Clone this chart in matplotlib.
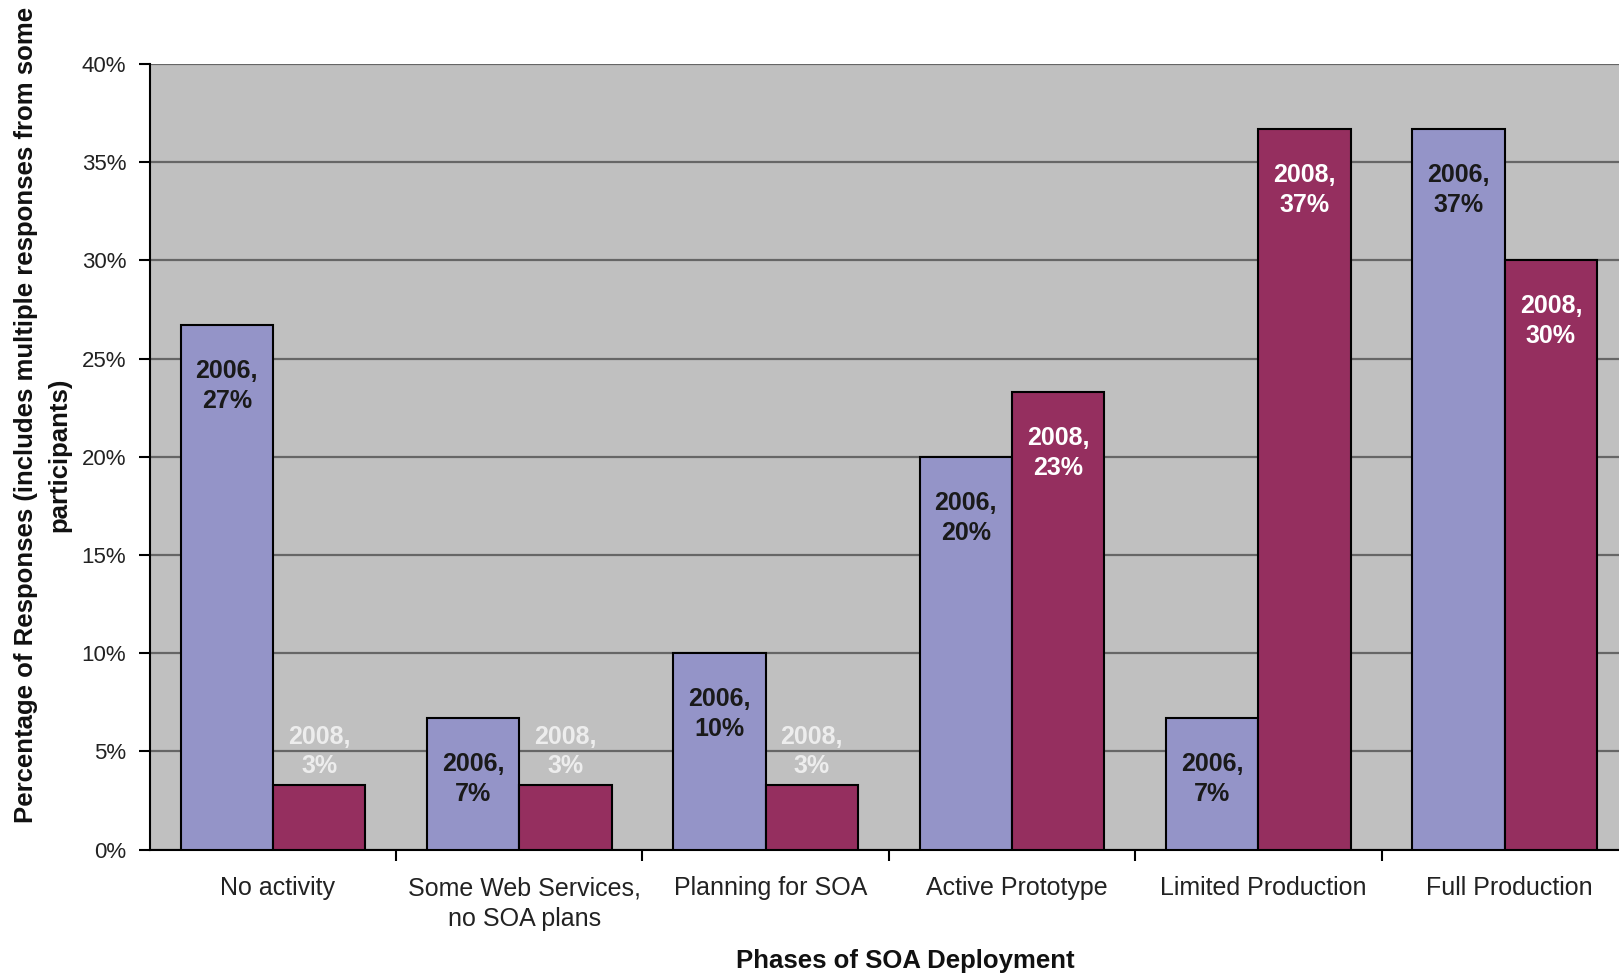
import numpy as np
import matplotlib
matplotlib.use("Agg")
import matplotlib.pyplot as plt

plt.rcParams['font.family'] = ['Liberation Sans', 'DejaVu Sans']

# Chart data
phases = ['No activity', 'Some Web Services,\nno SOA plans', 'Planning for SOA',
          'Active Prototype', 'Limited Production', 'Full Production']
values_2006 = [26.7, 6.7, 10.0, 20.0, 6.7, 36.7]
values_2008 = [3.3, 3.3, 3.3, 23.3, 36.7, 30.0]
labels_2006 = ['27%', '7%', '10%', '20%', '7%', '37%']
labels_2008 = ['3%', '3%', '3%', '23%', '37%', '30%']
yticks = [0, 5, 10, 15, 20, 25, 30, 35, 40]

color_2006 = '#9494C8'
color_2008 = '#952F5F'

fig = plt.figure(figsize=(16.19, 9.77), dpi=100)
ax = fig.add_axes([0.0925, 0.1303, 0.913, 0.8042])
ax.set_facecolor('#C0C0C0')

x = np.arange(len(phases))
w = 0.375
ax.bar(x - w / 2, values_2006, w, color=color_2006, edgecolor='black', linewidth=1.5, zorder=3)
ax.bar(x + w / 2, values_2008, w, color=color_2008, edgecolor='black', linewidth=1.5, zorder=3)

# value labels inside bars (or above for the small ones)
lbl = dict(ha='center', va='center', fontsize=18, fontweight='bold', linespacing=1.3, zorder=4)
for xi, v, lab in zip(x - w / 2, values_2006, labels_2006):
    ax.text(xi, v - 3.1, '2006,\n' + lab, color='#1a1a1a', **lbl)
for xi, v, lab in zip(x + w / 2, values_2008, labels_2008):
    if v < 5:
        ax.text(xi, v + 1.7, '2008,\n' + lab, color='#ededed', **lbl)
    else:
        ax.text(xi, v - 3.1, '2008,\n' + lab, color='white', **lbl)

ax.set_ylim(0, 40)
ax.set_xlim(-0.5, len(phases) - 0.5)
ax.set_yticks(yticks)
ax.set_yticklabels([f'{t}%' for t in yticks], fontsize=16, color='#222222')
ax.yaxis.grid(True, color='#666666', linewidth=1.6, zorder=0)
ax.set_axisbelow(True)

# category ticks sit between groups, labels at the centres
ax.set_xticks(x + 0.02)
ax.set_xticklabels(phases, fontsize=18, color='#222222', linespacing=1.35)
ax.tick_params(axis='x', length=0, pad=19)
ax.set_xticks(np.arange(0.5, len(phases) - 0.5, 1), minor=True)
ax.tick_params(axis='x', which='minor', length=8, width=1.5, direction='out')
ax.tick_params(axis='y', length=8, width=1.5, direction='out', pad=9)

for s in ['top', 'right']:
    ax.spines[s].set_visible(False)
ax.spines['left'].set_linewidth(1.5)
ax.spines['bottom'].set_linewidth(1.5)

# axis titles
fig.text(0.559, 0.0165, 'Phases of SOA Deployment', ha='center', va='center',
         fontsize=18.5, fontweight='bold', color='#111111')
fig.text(0.016, 0.575, 'Percentage of Responses (includes multiple responses from some',
         rotation=90, ha='center', va='center', fontsize=18.5, fontweight='bold', color='#111111')
fig.text(0.0364, 0.534, 'participants)',
         rotation=90, ha='center', va='center', fontsize=18.5, fontweight='bold', color='#111111')

fig.savefig('out.png', dpi=100, facecolor='white')
